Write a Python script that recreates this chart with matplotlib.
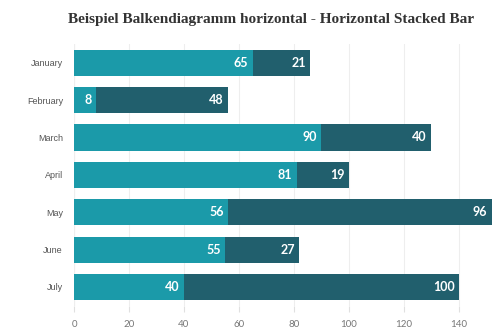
import matplotlib.pyplot as plt
import numpy as np

months = ["January", "February", "March", "April", "May", "June", "July"]
serie_a = [65, 8, 90, 81, 56, 55, 40]
serie_b = [21, 48, 40, 19, 96, 27, 100]
x_ticks = [0, 20, 40, 60, 80, 100, 120, 140]

col_a = "#1b9aa9"
col_b = "#215f6d"

fig = plt.figure(figsize=(4.97, 3.33), dpi=100)
ax = fig.add_axes([0.149, 0.082, 0.851, 0.786])

y = np.arange(len(months))
ax.barh(y, serie_a, height=0.7, color=col_a, zorder=2)
ax.barh(y, serie_b, left=serie_a, height=0.7, color=col_b, zorder=2)

# Werte am Ende jedes Segments
for i in range(len(months)):
    ax.text(serie_a[i] - 1.5, y[i], str(serie_a[i]), color="white", fontsize=9,
            fontweight="bold", ha="right", va="center", family="Lato", zorder=3)
    ax.text(serie_a[i] + serie_b[i] - 1.5, y[i], str(serie_b[i]), color="white",
            fontsize=9, fontweight="bold", ha="right", va="center", family="Lato", zorder=3)

ax.set_yticks(y)
ax.set_yticklabels(months, family="Liberation Sans", fontsize=6.5, color="#555555")
ax.set_xticks(x_ticks)
ax.set_xticklabels([str(v) for v in x_ticks], family="Lato", fontsize=7, color="#777777")
ax.set_xlim(0, 154)
ax.set_ylim(len(months) - 0.5, -0.5)
ax.tick_params(axis="y", length=0, pad=8)
ax.tick_params(axis="x", length=4, color="#e0e0e0", pad=6)
for s in ax.spines.values():
    s.set_visible(False)
ax.grid(axis="x", color="#eeeeee", linewidth=0.8, zorder=0)
ax.axvline(0, color="#dddddd", linewidth=0.8, zorder=1)

fig.text(0.545, 0.94, "Beispiel Balkendiagramm horizontal - Horizontal Stacked Bar",
         ha="center", va="center", family="Liberation Serif", fontweight="bold",
         fontsize=11, color="#333333")

plt.savefig("out.png")
